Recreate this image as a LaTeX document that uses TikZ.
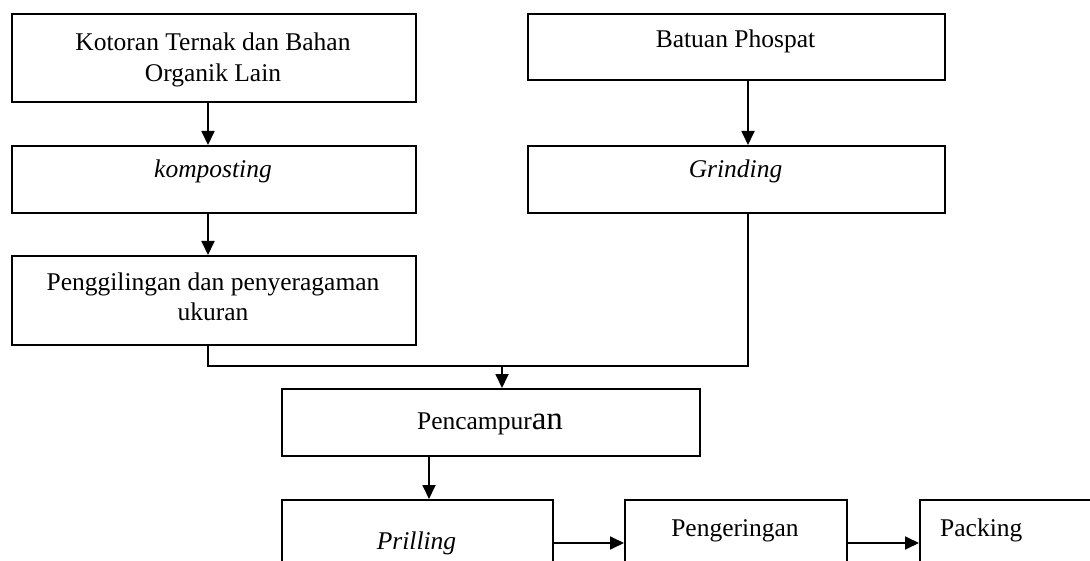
\documentclass[tikz,border=0pt]{standalone}
\usepackage{fontspec}
\setmainfont{Liberation Serif}
\usetikzlibrary{arrows.meta}
\begin{document}
\begin{tikzpicture}[x=1pt,y=-1pt,
  box/.style={draw, line width=1.8pt, rectangle, inner sep=0pt, anchor=north west},
  txt/.style={anchor=base, inner sep=0pt, font=\fontsize{25.5pt}{30pt}\selectfont},
  arr/.style={line width=1.8pt, -{Triangle[length=14pt,width=13pt]}},
  ln/.style={line width=1.8pt}]
\useasboundingbox (0,0) rectangle (1090,561);
\clip (0,0) rectangle (1090,561);
% boxes
\node[box, minimum width=404pt, minimum height=88pt] (kot) at (11,13) {};
\node[box, minimum width=417pt, minimum height=66pt] (bat) at (527,13) {};
\node[box, minimum width=404pt, minimum height=67pt] (komp) at (11,145) {};
\node[box, minimum width=417pt, minimum height=67pt] (grind) at (527,145) {};
\node[box, minimum width=404pt, minimum height=89pt] (peng) at (11,255) {};
\node[box, minimum width=418pt, minimum height=67pt] (camp) at (281,388) {};
\node[box, minimum width=271pt, minimum height=110pt] (prill) at (281,499) {};
\node[box, minimum width=222pt, minimum height=110pt] (kering) at (624,499) {};
\node[box, minimum width=200pt, minimum height=110pt] (pack) at (919,499) {};
% texts
\node[txt] (t1a) at (213,51) {Kotoran Ternak dan Bahan};
\node[txt] (t1b) at (213,82) {Organik Lain};
\node[txt] (t2) at (735.5,48) {Batuan Phospat};
\node[txt] (t3) at (213,178) {\itshape komposting};
\node[txt] (t4) at (735.5,178) {\itshape Grinding};
\node[txt] (t5a) at (213,291) {Penggilingan dan penyeragaman};
\node[txt] (t5b) at (213,321) {ukuran};
\node[txt] (t6) at (490,429) {Pencampur{\fontsize{33pt}{36pt}\selectfont an}};
\node[txt] (t7) at (416.5,549) {\itshape Prilling};
\node[txt] (t8) at (735,536) {Pengeringan};
\node[txt, anchor=base west] (t9) at (940,536) {Packing};
% connectors
\coordinate (kotb) at (kot.south -| 208,0);
\coordinate (kompt) at (komp.north -| 208,0);
\coordinate (kompb) at (komp.south -| 208,0);
\coordinate (pengt) at (peng.north -| 208,0);
\coordinate (pengb) at (peng.south -| 208,0);
\coordinate (batb) at (bat.south -| 748,0);
\coordinate (grindt) at (grind.north -| 748,0);
\coordinate (grindb) at (grind.south -| 748,0);
\coordinate (j1) at (208,366);
\coordinate (j2) at (748,366);
\coordinate (j3) at (502,366);
\coordinate (campt) at (camp.north -| 502,0);
\coordinate (campb) at (camp.south -| 429,0);
\coordinate (prillt) at (prill.north -| 429,0);
\coordinate (prillr) at (prill.east |- 0,543);
\coordinate (keringl) at (kering.west |- 0,543);
\coordinate (keringr) at (kering.east |- 0,543);
\coordinate (packl) at (pack.west |- 0,543);
\draw[arr] (kotb) -- (kompt);
\draw[arr] (kompb) -- (pengt);
\draw[arr] (batb) -- (grindt);
\draw[ln] (pengb) -- (j1) -- (j2) -- (grindb);
\draw[arr] (j3) -- (campt);
\draw[arr] (campb) -- (prillt);
\draw[arr] (prillr) -- (keringl);
\draw[arr] (keringr) -- (packl);
\end{tikzpicture}
\end{document}
